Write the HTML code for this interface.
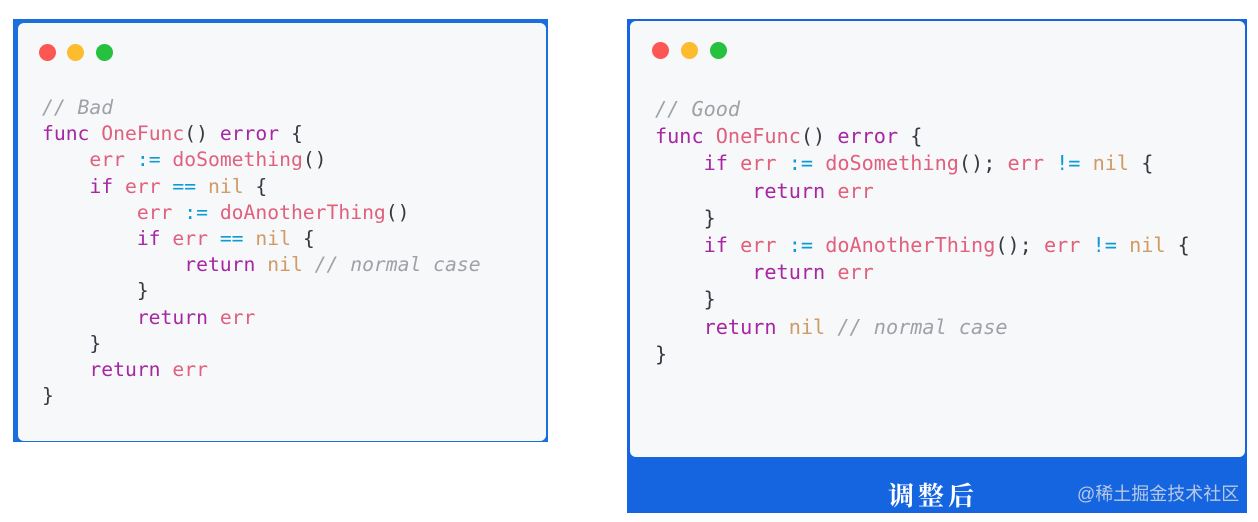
<!DOCTYPE html>
<html><head><meta charset="utf-8"><style>
*{margin:0;padding:0;box-sizing:border-box}
body{width:1258px;height:522px;background:#fff;position:relative;overflow:hidden;font-family:"Liberation Sans",sans-serif}
.frame{position:absolute;background:#1a6fdc}
.card{position:absolute;background:#f7f8f9;border-radius:6px}
.dot{position:absolute;width:17px;height:17px;border-radius:50%}
pre{position:absolute;font-family:"DejaVu Sans Mono","Liberation Mono",monospace;font-size:19.7px;color:#383a42;white-space:pre}
.k{color:#a626a4}.v{color:#e0607e}.n{color:#d19a66}.o{color:#0c9bd6}.c{color:#a0a1a7;font-style:italic}.p{color:#383a42}
</style></head><body>
<div class="frame" style="left:13px;top:19px;width:535px;height:423px"></div>
<div class="card" style="left:18px;top:23px;width:528px;height:418px"></div>
<div class="dot" style="left:39px;top:44px;background:#fc5753"></div>
<div class="dot" style="left:67px;top:44px;background:#fdbc2e"></div>
<div class="dot" style="left:96px;top:44px;background:#26c13f"></div>
<pre style="left:42px;top:95px;line-height:26.2px"><span class="c">// Bad</span>
<span class="k">func</span> <span class="v">OneFunc</span>() <span class="k">error</span> {
    <span class="v">err</span> <span class="o">:=</span> <span class="v">doSomething</span>()
    <span class="k">if</span> <span class="v">err</span> <span class="o">==</span> <span class="n">nil</span> {
        <span class="v">err</span> <span class="o">:=</span> <span class="v">doAnotherThing</span>()
        <span class="k">if</span> <span class="v">err</span> <span class="o">==</span> <span class="n">nil</span> {
            <span class="k">return</span> <span class="n">nil</span> <span class="c">// normal case</span>
        }
        <span class="k">return</span> <span class="v">err</span>
    }
    <span class="k">return</span> <span class="v">err</span>
}</pre>

<div class="frame" style="left:627px;top:19px;width:620px;height:494px;background:#1565e0"></div>
<div class="card" style="left:630px;top:21px;width:615px;height:436px"></div>
<div class="dot" style="left:652px;top:42px;background:#fc5753"></div>
<div class="dot" style="left:681px;top:42px;background:#fdbc2e"></div>
<div class="dot" style="left:710px;top:42px;background:#26c13f"></div>
<pre style="left:655px;top:96px;line-height:27.2px;font-size:20.2px"><span class="c">// Good</span>
<span class="k">func</span> <span class="v">OneFunc</span>() <span class="k">error</span> {
    <span class="k">if</span> <span class="v">err</span> <span class="o">:=</span> <span class="v">doSomething</span>(); <span class="v">err</span> <span class="o">!=</span> <span class="n">nil</span> {
        <span class="k">return</span> <span class="v">err</span>
    }
    <span class="k">if</span> <span class="v">err</span> <span class="o">:=</span> <span class="v">doAnotherThing</span>(); <span class="v">err</span> <span class="o">!=</span> <span class="n">nil</span> {
        <span class="k">return</span> <span class="v">err</span>
    }
    <span class="k">return</span> <span class="n">nil</span> <span class="c">// normal case</span>
}</pre>
<div style="position:absolute;left:888px;top:482px;font-family:'Liberation Serif','Noto Serif CJK SC',serif;font-weight:bold;font-size:26px;color:#fff;letter-spacing:4px;line-height:30px">调整后</div>
<div style="position:absolute;left:1077px;top:482px;font-family:'Liberation Sans','Noto Sans CJK SC',sans-serif;font-size:18px;color:#b9c8e6;line-height:24px">@稀土掘金技术社区</div>
</body></html>
